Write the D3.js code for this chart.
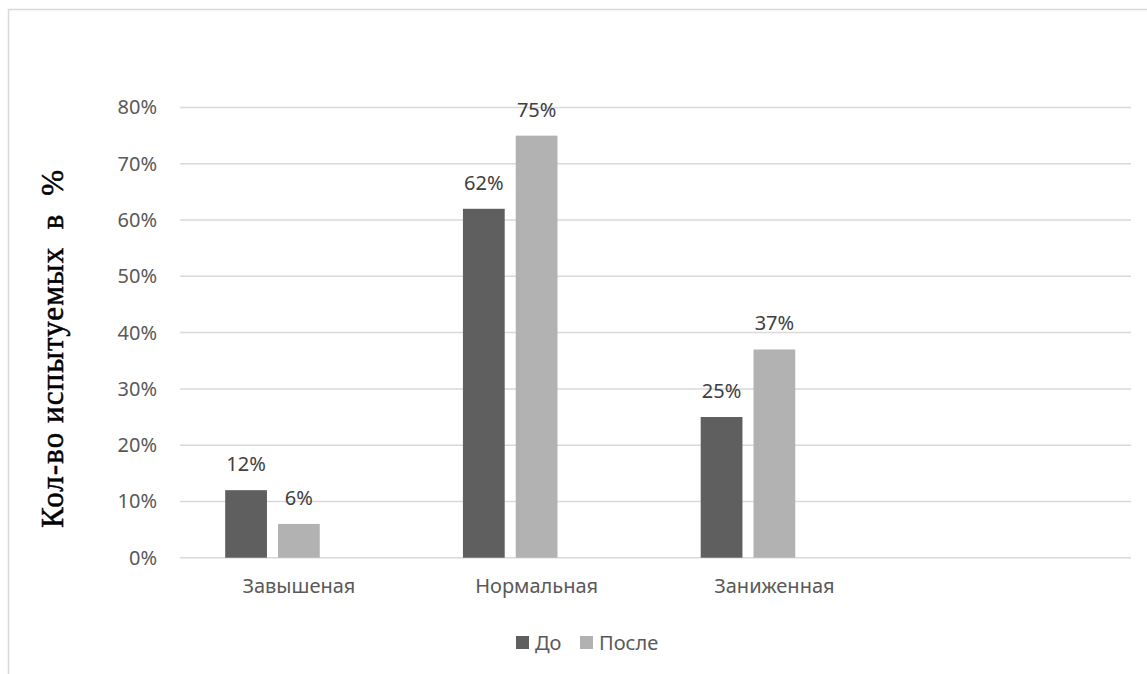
<!DOCTYPE html>
<html>
<head>
<meta charset="utf-8">
<script src="https://cdn.jsdelivr.net/npm/d3@7"></script>
<style>
  html, body { margin: 0; padding: 0; background: #fff; }
  svg { display: block; }
</style>
</head>
<body>
<svg id="chart" width="1147" height="674"></svg>
<script>
// ---- data ----
const categories = ["Завышеная", "Нормальная", "Заниженная", ""];
const seriesNames = ["До", "После"];
const valuesBefore = [0.12, 0.62, 0.25];
const valuesAfter = [0.06, 0.75, 0.37];
const yTicks = [0, 0.1, 0.2, 0.3, 0.4, 0.5, 0.6, 0.7, 0.8];
const yTitle = "Кол-во испытуемых  в  %";
const seriesColors = ["#5f5f5f", "#b2b2b2"];

// ---- layout ----
const svg = d3.select("#chart");
const W = 1147, H = 674;
const plot = { left: 180, right: 1131, top: 107.5, bottom: 557.7 };
const font = "'Noto Sans', sans-serif";
const textColor = "#595959";

svg.append("rect").attr("width", W).attr("height", H).attr("fill", "#fff");
// chart border (only top & left visible)
svg.append("rect")
  .attr("x", 8.5).attr("y", 9.5)
  .attr("width", W + 20).attr("height", H + 20)
  .attr("fill", "none").attr("stroke", "#d9d9d9").attr("stroke-width", 1.5);

const y = d3.scaleLinear().domain([0, 0.8]).range([plot.bottom, plot.top]);
const x0 = d3.scaleBand().domain(categories).range([plot.left, plot.right]).padding(0);
// three slots per group (third slot unused, as in original)
const slots = [...seriesNames, "_"];
const x1 = d3.scaleBand().domain(slots).range([0, x0.bandwidth()])
  .paddingInner(0.209).paddingOuter(0.856);

// gridlines
svg.append("g").selectAll("line").data(yTicks).join("line")
  .attr("x1", plot.left).attr("x2", plot.right)
  .attr("y1", d => y(d)).attr("y2", d => y(d))
  .attr("stroke", "#d9d9d9").attr("stroke-width", 1.5);

// y axis labels
const yAxis = d3.axisLeft(y).tickValues(yTicks).tickFormat(d3.format(".0%")).tickSize(0).tickPadding(0);
const ya = svg.append("g").attr("transform", "translate(157,0)").call(yAxis);
ya.select(".domain").remove();
ya.selectAll("text").attr("font-family", font).attr("font-size", 20).attr("fill", textColor);

// x axis labels
const xAxis = d3.axisBottom(x0).tickSize(0).tickPadding(0);
const xa = svg.append("g").attr("transform", "translate(0,579)").call(xAxis);
xa.select(".domain").remove();
xa.selectAll("text").attr("font-family", font).attr("font-size", 20).attr("fill", textColor);

// bars
const data = [valuesBefore, valuesAfter];
seriesNames.forEach((s, si) => {
  const g = svg.append("g");
  const vals = data[si].map((v, i) => ({ cat: categories[i], v }));
  g.selectAll("rect").data(vals).join("rect")
    .attr("x", d => x0(d.cat) + x1(s))
    .attr("width", x1.bandwidth())
    .attr("y", d => y(d.v))
    .attr("height", d => y(0) - y(d.v))
    .attr("fill", seriesColors[si]);
  g.selectAll("text").data(vals).join("text")
    .attr("x", d => x0(d.cat) + x1(s) + x1.bandwidth() / 2)
    .attr("y", d => y(d.v) - 19)
    .attr("text-anchor", "middle")
    .attr("font-family", font).attr("font-size", 20).attr("fill", "#404040")
    .text(d => d3.format(".0%")(d.v));
});

// y title
svg.append("text")
  .attr("transform", "translate(63,349) rotate(-90)")
  .attr("text-anchor", "middle")
  .attr("font-family", "'Liberation Serif', serif")
  .attr("font-size", 31)
  .attr("fill", "#000")
  .attr("stroke", "#000")
  .attr("stroke-width", 0.5)
  .attr("textLength", 358)
  .attr("lengthAdjust", "spacing")
  .style("white-space", "pre")
  .text(yTitle);

// legend
const legendX = [516, 580];
const lg = svg.append("g");
seriesNames.forEach((s, i) => {
  lg.append("rect").attr("x", legendX[i]).attr("y", 636).attr("width", 13).attr("height", 13)
    .attr("fill", seriesColors[i]);
  lg.append("text").attr("x", legendX[i] + 19).attr("y", 649.5)
    .attr("font-family", font).attr("font-size", 20).attr("fill", textColor)
    .text(s);
});
</script>
</body>
</html>
